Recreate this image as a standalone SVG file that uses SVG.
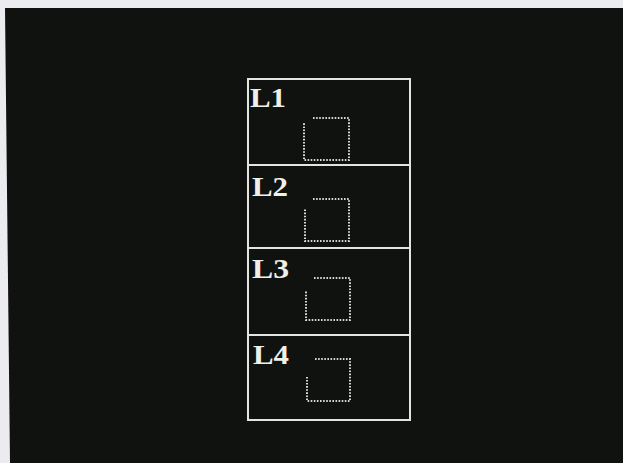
<svg xmlns="http://www.w3.org/2000/svg" width="623" height="463" viewBox="0 0 623 463">
<style>
.frame{fill:none;stroke:#e4e4e0;stroke-width:2}
.lbl{font-family:"Liberation Serif","DejaVu Serif",serif;font-weight:bold;font-size:28px;fill:#f0f0ea}
.dots{fill:none;stroke:#d8d8d2;stroke-width:2;stroke-dasharray:1.6 1.5}
</style>
<rect x="0" y="0" width="623" height="463" fill="#ecebef"/>
<polygon points="5,8 623,8 623,463 10,463" fill="#101210"/>
<g id="panels">
<rect class="frame" x="248" y="79" width="162" height="341"/>
</g>
<g id="L1">
<line class="frame" x1="248" y1="165" x2="410" y2="165"/>
<text class="lbl" x="250" y="107" textLength="36" lengthAdjust="spacingAndGlyphs">L1</text>
<path class="dots" d="M313,118 H349 V160 H304 V122"/>
</g>
<g id="L2">
<line class="frame" x1="248" y1="248" x2="410" y2="248"/>
<text class="lbl" x="252" y="196" textLength="36" lengthAdjust="spacingAndGlyphs">L2</text>
<path class="dots" d="M313,199 H349 V241 H305 V208"/>
</g>
<g id="L3">
<line class="frame" x1="248" y1="335" x2="410" y2="335"/>
<text class="lbl" x="252" y="278" textLength="37" lengthAdjust="spacingAndGlyphs">L3</text>
<path class="dots" d="M314,278 H350 V320 H306 V291"/>
</g>
<g id="L4">
<text class="lbl" x="253" y="364" textLength="36" lengthAdjust="spacingAndGlyphs">L4</text>
<path class="dots" d="M315,359 H350 V401 H307 V377"/>
</g>
</svg>
